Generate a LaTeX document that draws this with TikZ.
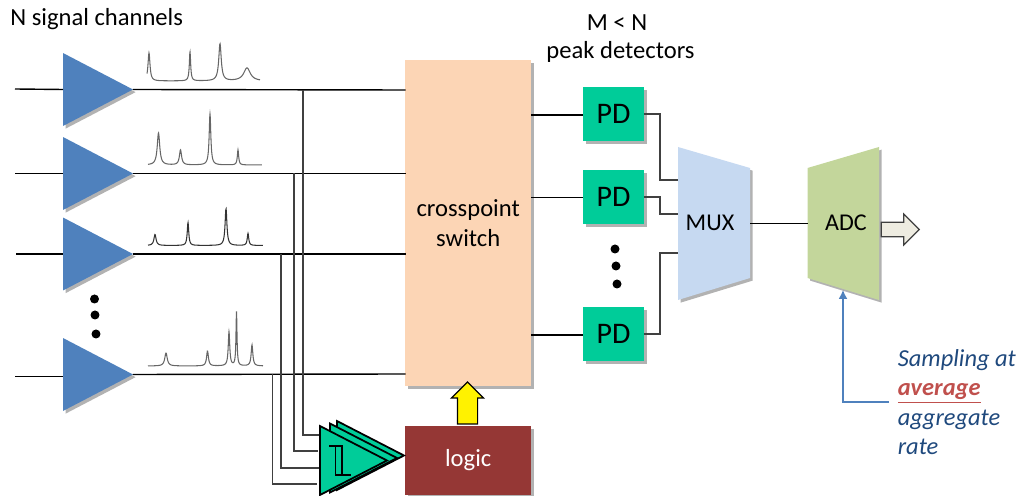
\documentclass[tikz,border=0pt]{standalone}
\usepackage{fontspec}
\setmainfont{Carlito}
\usepackage{tikz}
\usetikzlibrary{arrows, arrows.meta, shapes.geometric, shapes.arrows, shadows}
\definecolor{ampblue}{RGB}{79,129,189}
\definecolor{swpeach}{RGB}{252,213,181}
\definecolor{pdgreen}{RGB}{0,204,153}
\definecolor{muxblue}{RGB}{198,217,241}
\definecolor{adcgreen}{RGB}{195,214,155}
\definecolor{logicred}{RGB}{149,55,53}
\definecolor{outcream}{RGB}{238,236,225}
\definecolor{ratenavy}{RGB}{31,73,125}
\definecolor{avgred}{RGB}{192,80,77}
\tikzset{softshadow/.style = {drop shadow = {shadow xshift = 1.5pt, shadow yshift = -1.5pt, opacity = 0.3, fill = black}}}
\tikzset{amp/.style = {shape = isosceles triangle, isosceles triangle stretches, fill = ampblue, inner sep = 0, outer sep = 0, minimum height = 1.4cm, minimum width = 1.46cm, anchor = lower side, softshadow}}
\tikzset{comparator/.style = {shape = isosceles triangle, isosceles triangle stretches, draw, line width = 1pt, fill = pdgreen, inner sep = 0, outer sep = 0, minimum height = 1.34cm, minimum width = 1.38cm, anchor = lower side}}
\tikzset{pd/.style = {shape = rectangle, fill = pdgreen, minimum width = 1.22cm, minimum height = 1.08cm, inner sep = 0, outer sep = 0, font = \fontsize{17}{19}\selectfont, softshadow}}
\tikzset{block/.style = {shape = rectangle, inner sep = 0, outer sep = 0, softshadow}}
\tikzset{dot/.style = {shape = circle, fill = black, inner sep = 0, minimum size = 0.18cm}}
\tikzset{edge/.style = {-, line width = 0.8pt}}
\tikzset{tap/.style = {-, line width = 0.7pt, black!75}}
\tikzset{spectrum/.style = {line width = 0.6pt, black!60, smooth}}
\tikzset{label/.style = {font = \fontsize{14}{16}\selectfont, inner sep = 0, align = center}}
\tikzset{declare function = {pk(\x,\c,\h,\w) = \h*\w*\w/(\w*\w+(\x-\c)^2);}}

\begin{document}
\begin{tikzpicture}[x = 0.02cm, y = -0.02cm]
	\useasboundingbox (0, 0) rectangle (1019, 496);

	% amplifiers
	\node[amp] (a1) at (63, 89.5) {};
	\node[amp] (a2) at (63, 173.5) {};
	\node[amp] (a3) at (63, 254) {};
	\node[amp] (a4) at (63, 374.5) {};
	\node[dot] (d1) at (94.5, 299) {};
	\node[dot] (d2) at (95, 315) {};
	\node[dot] (d3) at (96, 334) {};

	% main blocks
	\node[block, fill = swpeach, align = center, font = \fontsize{14}{16.7}\selectfont, minimum width = 2.51cm, minimum height = 6.51cm] (sw) at (468.2, 223.2) {crosspoint\\switch};
	\node[block, fill = logicred, text = white, font = \fontsize{14}{16}\selectfont, minimum width = 2.51cm, minimum height = 1.38cm] (logic) at (468.2, 460.5) {logic};
	\node[pd] (pd1) at (613.5, 114) {PD};
	\node[pd] (pd2) at (613.5, 197) {PD};
	\node[pd] (pd3) at (613.5, 334) {PD};
	\node[dot] (d4) at (615, 249) {};
	\node[dot] (d5) at (616, 266) {};
	\node[dot] (d6) at (617, 284) {};
	\fill[muxblue, softshadow] (678, 147) -- (750, 168) -- (750, 278) -- (678, 300) -- cycle;
	\fill[adcgreen, softshadow] (807.5, 168) -- (879, 147) -- (879, 300) -- (807.5, 278) -- cycle;
	\node[font = \fontsize{13.7}{16}\selectfont, inner sep = 0] (mux) at (710, 223) {MUX};
	\node[font = \fontsize{13.7}{16}\selectfont, inner sep = 0] (adc) at (846, 223) {ADC};

	% free ends
	\coordinate (i1) at (15, 89);
	\coordinate (i2) at (15, 173.5);
	\coordinate (i3) at (16, 254);
	\coordinate (i4) at (15, 376.5);
	\coordinate (s1) at (405.5, 90);
	\coordinate (s2) at (405.5, 173.5);
	\coordinate (s3) at (405.5, 254);
	\coordinate (s4) at (405.5, 374);
	\coordinate (t1) at (303, 90);
	\coordinate (t2) at (294, 173.5);
	\coordinate (t3) at (281, 254);
	\coordinate (t4) at (272.5, 374);
	\coordinate (c1) at (320, 435);
	\coordinate (c2) at (318, 451);
	\coordinate (c3) at (319, 468);
	\coordinate (c4) at (317, 484);
	\coordinate (m1) at (678, 180);
	\coordinate (m2) at (678, 214);
	\coordinate (m3) at (678, 253);
	\coordinate (mo) at (750, 223.5);
	\coordinate (ai) at (807.5, 223.5);
	\coordinate (o1) at (531, 115);
	\coordinate (o2) at (531, 197.5);
	\coordinate (o3) at (531, 335);
	\coordinate (b1) at (843, 290);

	% signal lines
	\draw[edge] (i1) to (a1.lower side);
	\draw[edge] (i2) to (a2.lower side);
	\draw[edge] (i3) to (a3.lower side);
	\draw[edge] (i4) to (i4 -| a4.lower side);
	\draw[edge] (a1.apex) to (s1);
	\draw[edge] (a2.apex) to (s2);
	\draw[edge] (a3.apex) to (s3);
	\draw[edge] (a4.apex) to (s4);
	\draw[tap] (t1) |- (c1);
	\draw[tap] (t2) |- (c2);
	\draw[tap] (t3) |- (c3);
	\draw[tap] (t4) |- (c4);
	\draw[edge] (o1) to (o1 -| pd1.west);
	\draw[edge] (o2) to (o2 -| pd2.west);
	\draw[edge] (o3) to (o3 -| pd3.west);
	\draw[tap] (pd1.east) -- ++(16, 0) |- (m1);
	\draw[tap] (pd2.east) -- ++(16, 0) |- (m2);
	\draw[tap] (pd3.east) -- ++(16, 0) |- (m3);
	\draw[edge] (mo) to (ai);

	% comparators
	\node[comparator] (cmp3) at (337, 455.5) {};
	\node[comparator] (cmp2) at (330, 458) {};
	\node[comparator] (cmp1) at (320, 460.5) {};
	\draw[line width = 0.8pt] (329, 446) -- (342, 446) -- (342, 475) -- (351, 475);
	\draw[line width = 0.8pt] (335.7, 446) -- (335.7, 475) -- (342, 475);

	% spectra
	\draw[spectrum] plot[domain = 147:260, samples = 400] (\x, {81 - pk(\x, 149, 28, 1.2) - pk(\x, 190, 29, 0.8) - pk(\x, 220, 37, 1.5) - pk(\x, 247, 13, 4)});
	\draw[spectrum] plot[domain = 148:262, samples = 400] (\x, {165 - pk(\x, 158.5, 32, 1.5) - pk(\x, 180.5, 15, 1.3) - pk(\x, 210, 51, 1) - pk(\x, 238, 15, 0.8)});
	\draw[spectrum, black!80] plot[domain = 148:263, samples = 400] (\x, {245.5 - pk(\x, 155, 11, 1.3) - pk(\x, 188, 23, 0.9) - pk(\x, 226, 37, 1.1) - pk(\x, 248, 12, 0.9)});
	\draw[spectrum] plot[domain = 148:263, samples = 400] (\x, {366 - pk(\x, 166, 13, 1.5) - pk(\x, 207.5, 15, 1.1) - pk(\x, 229, 34, 0.9) - pk(\x, 236.5, 54, 0.6) - pk(\x, 252, 21, 1)});

	% block arrows
	\node[shape = single arrow, draw, line width = 0.7pt, fill = yellow, shape border rotate = 90, inner ysep = 0, inner xsep = 0.19cm, minimum height = 0.84cm, minimum width = 0.62cm, single arrow head extend = 0.12cm, outer sep = 0] (up) at (467.5, 408) {};
	\node[shape = single arrow, draw, line width = 0.7pt, black!75, fill = outcream, inner xsep = 0, inner ysep = 0.13cm, minimum height = 0.76cm, minimum width = 0.62cm, single arrow head extend = 0.16cm, outer sep = 0] (out) at (896.5, 229.5) {};

	% texts
	\node[label, anchor = west] (nch) at (10, 19) {N signal channels};
	\node[label] (mn) at (617, 23) {M < N};
	\node[label] (peak) at (620.5, 52) {peak detectors};
	\node[align = left, inner sep = 0.17cm, text = ratenavy, font = \fontsize{13.9}{16.7}\selectfont\itshape, anchor = west] (rate) at (889, 402) {Sampling at\\{\color{avgred}\bfseries\underline{average}}\\aggregate\\rate};
	\draw[-{Latex[length = 5pt, width = 5pt]}, line width = 0.8pt, ampblue] (rate.west) -| (b1);
\end{tikzpicture}
\end{document}
